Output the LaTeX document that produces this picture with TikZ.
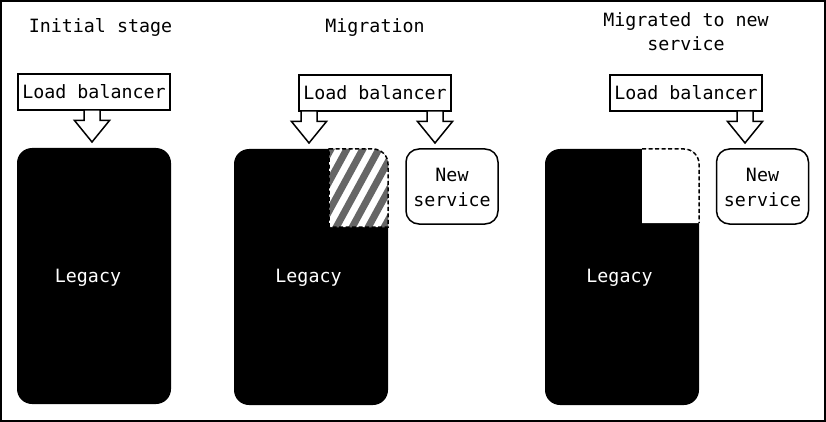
\documentclass[tikz,border=0pt]{standalone}
\usepackage{fontspec}
\newfontfamily\mono{DejaVu Sans Mono}
\newcommand\blockarr[3]{% cx, ytop, ytip
  \draw[barrow] (#1-8,#2) -- (#1-8,#2+10.5) -- (#1-17.5,#2+10.5) -- (#1,#3)
    -- (#1+17.5,#2+10.5) -- (#1+8,#2+10.5) -- (#1+8,#2) -- cycle;}
\begin{document}
\begin{tikzpicture}[x=1pt,y=-1pt,
  txt/.style={font=\mono\fontsize{18.3}{25}\selectfont, inner sep=0pt},
  lbbox/.style={draw, line width=1.5pt, fill=white, minimum width=152pt, minimum height=36pt, inner sep=0pt, font=\mono\fontsize{18.3}{25}\selectfont},
  legacybox/.style={fill=black, rounded corners=15pt, minimum width=154pt, minimum height=256pt, inner sep=0pt},
  newbox/.style={draw, line width=1.5pt, rounded corners=13pt, minimum width=92pt, minimum height=75pt, inner sep=0pt},
  barrow/.style={draw, line width=1.5pt, fill=white, line join=miter},
  dashline/.style={draw, line width=1.5pt, dash pattern=on 4pt off 2.5pt}
]
\useasboundingbox (0,0) rectangle (826,422);
\draw[line width=2pt] (1,1) rectangle (825,421);

% ---------- Panel 1
\node[txt, anchor=base] (t1) at (100.5,33) {Initial stage};
\node[legacybox] (leg1) at (94,276) {};
\node[txt, text=white, anchor=base] (l1) at (88,282) {Legacy};
\node[lbbox] (lb1) at (94,92) {Load balancer};
\blockarr{92}{110}{142}

% ---------- Panel 2
\node[txt, anchor=base] (t2) at (375,33) {Migration};
\node[legacybox] (leg2) at (311,277) {};
\node[txt, text=white, anchor=base] (l2) at (308.5,282) {Legacy};
\fill[white] (329,227) -- (329,149) -- (373,149) arc[start angle=-90,end angle=0,radius=15] -- (388,227) -- cycle;
\begin{scope}
  \clip (329,227) -- (329,149) -- (373,149) arc[start angle=-90,end angle=0,radius=15] -- (388,227) -- cycle;
  \foreach \s in {268,284,...,396} {
    \draw[line width=7pt, color=black!60] (\s,235) -- (\s+50.2,148-5);
  }
\end{scope}
\draw[dashline] (329,227) -- (329,149) -- (373,149) arc[start angle=-90,end angle=0,radius=15] -- (388,227) -- cycle;
\node[lbbox] (lb2) at (375,93) {Load balancer};
\blockarr{309}{111}{143}
\blockarr{435}{111}{143}
\node[newbox] (ns2) at (452,186.5) {};
\node[txt, anchor=base] (n2a) at (452,181) {New};
\node[txt, anchor=base] (n2b) at (452,206) {service};

% ---------- Panel 3
\node[txt, anchor=base] (t3a) at (686,27) {Migrated to new};
\node[txt, anchor=base] (t3b) at (686,51) {service};
\node[legacybox] (leg3) at (622,277) {};
\node[txt, text=white, anchor=base] (l3) at (619.5,282) {Legacy};
\fill[white] (642,223) -- (642,149) -- (684,149) arc[start angle=-90,end angle=0,radius=15] -- (699,223) -- cycle;
\draw[dashline] (642,149) -- (684,149) arc[start angle=-90,end angle=0,radius=15] -- (699,223);
\node[lbbox] (lb3) at (686,93) {Load balancer};
\blockarr{745}{111}{143}
\node[newbox] (ns3) at (762.5,186.5) {};
\node[txt, anchor=base] (n3a) at (762.5,181) {New};
\node[txt, anchor=base] (n3b) at (762.5,206) {service};
\end{tikzpicture}
\end{document}
